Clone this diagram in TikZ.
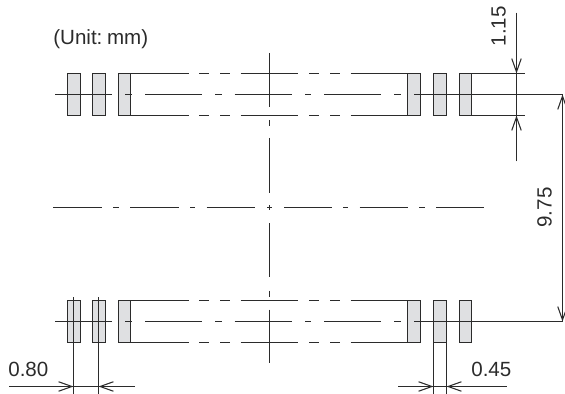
\documentclass[tikz,border=0pt]{standalone}
\usepackage{fontspec}
\setmainfont{Liberation Sans}
\usepackage{xcolor}
\usetikzlibrary{arrows.meta}
\definecolor{pinfill}{HTML}{DFE0E2}
\definecolor{ink}{HTML}{2B2B2B}
\tikzset{
  ln/.style={draw=ink, line width=0.6pt},
  pin/.style={ln, fill=pinfill},
  dimarrow/.style={ln, -{Straight Barb[length=7.6pt,width=5.4pt]}},
  lbl/.style={text=ink, inner sep=0pt, font=\fontsize{11.7}{14}\selectfont}
}
\begin{document}
\begin{tikzpicture}[x=0.02cm,y=-0.02cm]
\useasboundingbox (0,0) rectangle (565,394);
\node[lbl, anchor=base west] (unit) at (53,44.5) {(Unit:\kern-0.6pt\ mm)};
% the two rows of leads
\foreach \yc in {94.5,321.5} {
  \foreach \xa/\xb in {67.5/80.5,92.5/105.5,118.5/130.5,407.5/420.5,433.5/446.5,459.5/471.5}
    \draw[pin] (\xa,\yc-21) rectangle (\xb,\yc+21);
  \foreach \xa/\xb in {130.5/189,199/209,220/230,240.7/298,309/319,330/340,350.7/407.5} {
    \draw[ln] (\xa,\yc-21) -- (\xb,\yc-21);
    \draw[ln] (\xa,\yc+21) -- (\xb,\yc+21);
  }
  \foreach \xa/\xb in {55/112,125/132,145/201.7,215/221.5,234.7/291.7,305/311,324/381,394/401}
    \draw[ln] (\xa,\yc) -- (\xb,\yc);
}
\draw[ln] (414,94.5) -- (563,94.5);
\draw[ln] (414,321.5) -- (563,321.5);
% centre lines
\foreach \ya/\yb in {53/107,120/126,138/193,223.3/277.3,290.7/297.3,309.7/363.3}
  \draw[ln] (269.5,\ya) -- (269.5,\yb);
\draw[ln] (269.5,205) -- (269.5,210);
\foreach \xa/\xb in {53.3/102,113.3/118.7,130/178.7,190/195.3,206.7/255,267/272,284/331.7,343/348.3,359.7/407.7,419.3/425,436/484.3}
  \draw[ln] (\xa,207.5) -- (\xb,207.5);
% 1.15
\draw[ln] (471.5,73.5) -- (525,73.5);
\draw[ln] (471.5,115.5) -- (525,115.5);
\draw[dimarrow] (516.5,12.7) -- (516.5,73.5);
\draw[dimarrow] (516.5,161.3) -- (516.5,115.5);
\draw[ln] (516.5,73.5) -- (516.5,115.5);
\node[lbl, rotate=90, anchor=base west] (dimA) at (505.5,46.7) {1.15};
% 9.75
\draw[dimarrow] (562.5,207) -- (562.5,94.5);
\draw[dimarrow] (562.5,207) -- (562.5,321.5);
\node[lbl, rotate=90, anchor=base] (dimB) at (551.7,207.5) {9.75};
% 0.80
\draw[ln] (73.5,297.3) -- (73.5,394);
\draw[ln] (98.5,297.3) -- (98.5,394);
\draw[dimarrow] (9,386.5) -- (73.5,386.5);
\draw[dimarrow] (135,386.5) -- (98.5,386.5);
\draw[ln] (73.5,386.5) -- (98.5,386.5);
\node[lbl, anchor=base west] (dimC) at (8,377) {0.80};
% 0.45
\draw[ln] (433.5,342.5) -- (433.5,394);
\draw[ln] (446.5,342.5) -- (446.5,394);
\draw[dimarrow] (398.3,386.5) -- (433.5,386.5);
\draw[dimarrow] (506.7,386.5) -- (446.5,386.5);
\draw[ln] (433.5,386.5) -- (446.5,386.5);
\node[lbl, anchor=base west] (dimD) at (471,376.5) {0.45};
\end{tikzpicture}
\end{document}
